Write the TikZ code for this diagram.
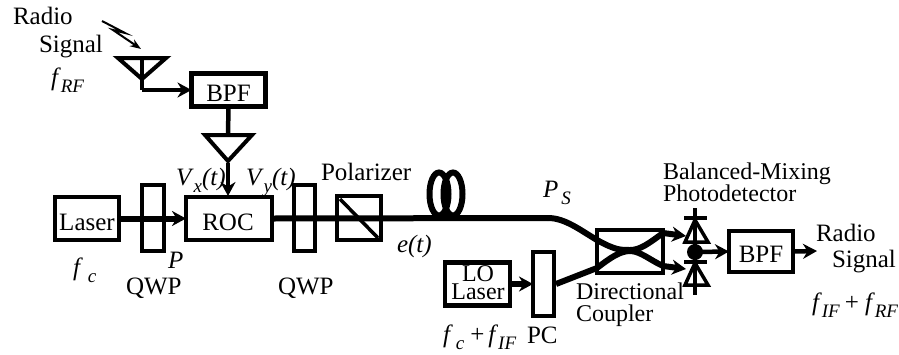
\documentclass[tikz,border=0pt]{standalone}
\usepackage{fontspec}
\setmainfont{Liberation Serif}
\usetikzlibrary{arrows.meta}
\newcommand{\subt}[1]{\raisebox{-7pt}{\fontsize{19}{19}\selectfont\textit{#1}}}
\tikzset{
 x=1pt,y=-1pt,
 txt/.style={anchor=base west,inner sep=0pt,outer sep=0pt,font=\fontsize{25}{25}\selectfont,text=black},
 ctxt/.style={anchor=base,inner sep=0pt,outer sep=0pt,font=\fontsize{25}{25}\selectfont,text=black},
 box/.style={draw=black,line width=4.5pt,inner sep=0pt,outer sep=0pt},
 wire/.style={draw=black,line width=4.5pt},
 fibre/.style={draw=black,line width=6pt},
 tip/.style={-{Stealth[length=14pt,width=15pt]}},
 tri/.style={draw=black,line width=4pt,line join=miter},
}
\begin{document}
\begin{tikzpicture}
\useasboundingbox (0,0) rectangle (899,354);
% boxes
\node[box,minimum width=74pt,minimum height=33pt] (bpfa) at (228.5,90) {};
\node[box,minimum width=64pt,minimum height=43pt] (laser) at (87,218.5) {};
\node[box,minimum width=22pt,minimum height=66pt] (qwpa) at (153,218) {};
\node[box,minimum width=86pt,minimum height=43pt] (roc) at (229,218.5) {};
\node[box,minimum width=21pt,minimum height=66pt] (qwpb) at (304.5,218) {};
\node[box,minimum width=44pt,minimum height=44pt] (pol) at (359,218) {};
\node[box,minimum width=65pt,minimum height=43pt] (lo) at (477.5,284) {};
\node[box,minimum width=21pt,minimum height=64pt] (pc) at (543.5,284) {};
\node[box,minimum width=66pt,minimum height=43pt] (dc) at (630,251.5) {};
\node[box,minimum width=64pt,minimum height=41pt] (bpfb) at (761,251.5) {};
% free ends
\coordinate (anta) at (142,57);
\coordinate (antb) at (142,90);
\coordinate (ampa) at (228,135);
\coordinate (ampb) at (228,163);
\coordinate (mix) at (695,252);
\coordinate (fibreend) at (548,218);
\coordinate (dcul) at (597,240);
\coordinate (dcll) at (597,268);
\coordinate (dcur) at (663,233);
\coordinate (dclr) at (663,266);
\coordinate (outa) at (686,236);
\coordinate (outb) at (686,269);
\coordinate (outc) at (817,251);
\coordinate (pcout) at (556,284);
% antenna
\draw[tri] (118,58) -- (166,58) -- (142,79) -- cycle;
\draw[wire] (anta) -- (antb);
\draw[wire,tip] (antb) -- (bpfa.west);
\draw[line width=2pt,-{Stealth[length=11pt,width=8pt]}] (102,21) -- (125,33) -- (113,30) -- (141,49);
% amplifier
\draw[wire] (bpfa.south) -- (ampa);
\draw[tri] (205,135) -- (252,135) -- (228,161) -- cycle;
\draw[wire,tip] (ampb) -- (228,196);
% main path
\draw[fibre,tip] (laser.east) -- (roc.west);
\draw[fibre] (roc.east) -- (fibreend);
\draw[fibre] (fibreend) .. controls (565,218) and (580,230) .. (dcul);
\draw[line width=3.5pt] (340,199) -- (378,238);
% fibre coil
\draw[line width=6pt] (439,194) ellipse [x radius=9.5,y radius=21.5];
\draw[line width=6pt] (453,194) ellipse [x radius=9.5,y radius=21.5];
% lo path
\draw[fibre,tip] (lo.east) -- (pc.west);
\draw[fibre] (pcout) -- (dcll);
% coupler curves
\draw[fibre] (dcul) .. controls (615,250) and (620,250) .. (630,250) .. controls (640,250) and (648,244) .. (dcur);
\draw[fibre] (dcll) .. controls (610,258) and (620,251) .. (630,251) .. controls (640,251) and (650,260) .. (dclr);
\draw[fibre,tip] (dcur) -- (outa);
\draw[fibre,tip] (dclr) -- (outb);
% photodetector
\draw[line width=3.5pt] (695,208) -- (695,295);
\draw[line width=3.5pt] (684,218) -- (707,218);
\draw[tri,line width=3.5pt] (695,220) -- (708,242) -- (685,242) -- cycle;
\draw[line width=3.5pt] (684,262) -- (707,262);
\draw[tri,line width=3.5pt] (695,263) -- (708,285) -- (685,285) -- cycle;
\fill[black] (mix) circle [radius=8];
\draw[wire,tip] (mix) -- (bpfb.west);
\draw[wire,tip] (bpfb.east) -- (outc);
% text
\node[txt] (t1) at (13,24) {Radio};
\node[txt] (t2) at (39,52) {Signal};
\node[txt] (t3) at (51,85) {\textit{f}\subt{RF}};
\node[ctxt] (t4) at (228.5,101) {BPF};
\node[ctxt] (t5) at (87,230) {Laser};
\node[ctxt] (t6) at (228,230) {ROC};
\node[txt] (t7) at (176,185) {\textit{V}\subt{x}\textit{(t)}};
\node[txt] (t8) at (246,185) {\textit{V}\subt{y}\textit{(t)}};
\node[txt] (t9) at (321,180) {Polarizer};
\node[txt] (t10) at (168,268) {\textit{P}};
\node[txt] (t11) at (73,275) {\textit{f}\hspace{5pt}\subt{c}};
\node[txt] (t12) at (126,294) {QWP};
\node[txt] (t13) at (278,294) {QWP};
\node[txt] (t14) at (397,252) {\textit{e(t)}};
\node[txt] (t15) at (543,197) {\textit{P}\hspace{3pt}\subt{S}};
\node[ctxt,align=center,anchor=center,font=\fontsize{24}{18}\selectfont] (t16) at (478,283) {LO\\Laser};
\node[txt] (t18) at (443,342) {\textit{f}\hspace{3pt}\subt{c}\hspace{6pt}+\hspace{4pt}\textit{f}\subt{IF}};
\node[txt] (t19) at (527,343) {PC};
\node[txt,align=left,anchor=north west,font=\fontsize{24}{22}\selectfont] (t20) at (576,283) {Directional\\Coupler};
\node[txt,align=left,anchor=north west,font=\fontsize{24}{22}\selectfont] (t22) at (663,163) {Balanced-Mixing\\Photodetector};
\node[ctxt] (t24) at (761,262) {BPF};
\node[txt] (t25) at (816,241) {Radio};
\node[txt] (t26) at (832,267) {Signal};
\node[txt] (t27) at (812,310) {\textit{f}\subt{IF}\hspace{5pt}+\hspace{6pt}\textit{f}\subt{RF}};
\end{tikzpicture}
\end{document}
